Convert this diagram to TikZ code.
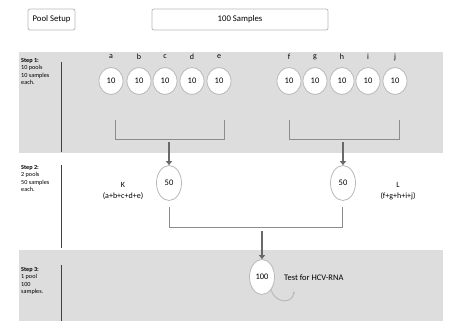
\documentclass[tikz,border=0pt]{standalone}
\usepackage{fontspec}
\setmainfont{Carlito}
\usetikzlibrary{positioning,arrows.meta,shapes.geometric}

\definecolor{bandgray}{RGB}{221,221,221}
\definecolor{ringgray}{RGB}{185,185,185}
\definecolor{bracketgray}{RGB}{140,140,140}
\definecolor{arrowgray}{RGB}{105,105,105}

\tikzset{
  pool/.style={ellipse,draw=ringgray,fill=white,line width=0.8pt,inner sep=0pt,minimum width=24pt,minimum height=27pt,font=\fontsize{8.5}{9}\selectfont},
  bigpool/.style={pool,minimum width=25pt,minimum height=35pt},
  headbox/.style={draw=ringgray,rounded corners=2pt,line width=0.8pt,font=\fontsize{8.7}{10}\selectfont},
  steptext/.style={anchor=north west,align=left,inner sep=0pt,font=\fontsize{6.2}{7.4}\selectfont},
  letter/.style={font=\fontsize{8}{9}\selectfont,inner sep=0pt},
  bracket/.style={draw=bracketgray,line width=0.8pt},
  downarrow/.style={draw=arrowgray,line width=1.8pt,-{Triangle[width=6pt,length=4pt]}},
  sepline/.style={draw=black!75,line width=1pt}
}

\begin{document}
\begin{tikzpicture}[x=1pt,y=1pt,yscale=-1]
        \useasboundingbox (0,0) rectangle (450,321);
        %Shape: Rectangle [bands]
        \fill [bandgray] (19,52) rectangle (443,153);
        \fill [bandgray] (19,250) rectangle (443,321);

        % Header boxes
        \node [headbox,minimum width=47pt,minimum height=21pt] (setup) at (51.5,19.5) {Pool Setup};
        \node [headbox,minimum width=176pt,minimum height=21pt] (samples) at (240,19.5) {100 Samples};

        % Step labels
        \node [steptext] (step1) at (21,58) {\textbf{Step 1:}\\10 pools\\10 samples\\each.};
        \node [steptext] (step2) at (21,165) {\textbf{Step 2:}\\2 pools\\50 samples\\each.};
        \node [steptext] (step3) at (21,267) {\textbf{Step 3:}\\1 pool\\100\\samples.};
        \draw [sepline] (61,62) -- (61,152);
        \draw [sepline] (61,165) -- (61,248);
        \draw [sepline] (61,265) -- (61,321);

        % Step 1: ten pools
        \foreach \name/\x in {a/111,b/139,c/165,d/192,e/219,f/289,g/315,h/342,i/368,j/395}{
          \node [pool] (\name) at (\x,81) {10};
          \node [letter] (lbl\name) at (\x,57) {\name};
        }

        % Brackets
        \coordinate (bl1) at (115,120); \coordinate (br1) at (224,120);
        \coordinate (bl2) at (289,120); \coordinate (br2) at (399,120);
        \draw [bracket] (bl1) -- ++(0,19) -| (br1);
        \draw [bracket] (bl2) -- ++(0,19) -| (br2);

        % Step 2: two pools
        \node [bigpool] (K) at (169,183) {50};
        \node [bigpool] (L) at (343,183) {50};
        \coordinate (k0) at (169,142);
        \coordinate (l0) at (343,142);
        \draw [downarrow] (k0) -- (K.north);
        \draw [downarrow] (l0) -- (L.north);
        \node [letter,align=center] (klbl) at (123,191) {K\\[2pt](a+b+c+d+e)};
        \node [letter,align=center] (llbl) at (398,191) {L\\[2pt](f+g+h+i+j)};

        \coordinate (bl3) at (169,207); \coordinate (br3) at (342,207);
        \draw [bracket] (bl3) -- ++(0,20) -| (br3);

        % Step 3: one pool
        \node [bigpool] (all) at (262,277) {100};
        \coordinate (m0) at (262,231);
        \draw [downarrow] (m0) -- (all.north);
        \node [letter,anchor=west,font=\fontsize{8.5}{10}\selectfont] (test) at (284,278) {Test for HCV-RNA};
        \draw [draw=ringgray,line width=1pt,-{Stealth[length=3pt]}] (all.south east) .. controls (275,304) and (293,304) .. (294,291);
\end{tikzpicture}
\end{document}
